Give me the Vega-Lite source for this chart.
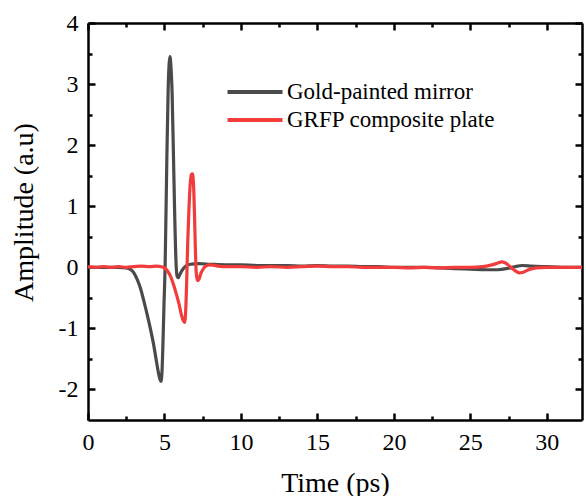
{
  "$schema": "https://vega.github.io/schema/vega-lite/v6.json",
  "autosize": {"type": "none"},
  "padding": {"left": 88, "top": 23, "right": 4, "bottom": 76},
  "width": 494,
  "height": 397,
  "config": {
    "font": "Liberation Serif",
    "view": {"stroke": null},
    "axis": {"grid": false, "domainColor": "black", "tickColor": "black", "labelColor": "black", "titleColor": "black", "labelFont": "Liberation Serif", "titleFont": "Liberation Serif", "titleFontWeight": "normal", "domainWidth": 2.5, "tickWidth": 2.5}
  },
  "data": {"values": [
    {"t":0,"a":0.00,"s":"Gold-painted mirror"},{"t":1,"a":0.00,"s":"Gold-painted mirror"},{"t":2,"a":0.00,"s":"Gold-painted mirror"},{"t":2.5,"a":-0.01,"s":"Gold-painted mirror"},{"t":2.8,"a":-0.04,"s":"Gold-painted mirror"},{"t":3.0,"a":-0.09,"s":"Gold-painted mirror"},{"t":3.2,"a":-0.19,"s":"Gold-painted mirror"},{"t":3.4,"a":-0.32,"s":"Gold-painted mirror"},{"t":3.62,"a":-0.52,"s":"Gold-painted mirror"},{"t":3.8,"a":-0.7,"s":"Gold-painted mirror"},{"t":3.95,"a":-0.86,"s":"Gold-painted mirror"},{"t":4.1,"a":-1.03,"s":"Gold-painted mirror"},{"t":4.28,"a":-1.25,"s":"Gold-painted mirror"},{"t":4.45,"a":-1.5,"s":"Gold-painted mirror"},{"t":4.6,"a":-1.72,"s":"Gold-painted mirror"},{"t":4.7,"a":-1.83,"s":"Gold-painted mirror"},{"t":4.77,"a":-1.87,"s":"Gold-painted mirror"},{"t":4.84,"a":-1.7,"s":"Gold-painted mirror"},{"t":4.9,"a":-1.25,"s":"Gold-painted mirror"},{"t":4.97,"a":-0.6,"s":"Gold-painted mirror"},{"t":5.04,"a":0.0,"s":"Gold-painted mirror"},{"t":5.1,"a":0.9,"s":"Gold-painted mirror"},{"t":5.16,"a":1.85,"s":"Gold-painted mirror"},{"t":5.24,"a":2.9,"s":"Gold-painted mirror"},{"t":5.31,"a":3.35,"s":"Gold-painted mirror"},{"t":5.36,"a":3.45,"s":"Gold-painted mirror"},{"t":5.42,"a":3.3,"s":"Gold-painted mirror"},{"t":5.5,"a":2.85,"s":"Gold-painted mirror"},{"t":5.59,"a":1.8,"s":"Gold-painted mirror"},{"t":5.67,"a":0.85,"s":"Gold-painted mirror"},{"t":5.76,"a":0.05,"s":"Gold-painted mirror"},{"t":5.83,"a":-0.15,"s":"Gold-painted mirror"},{"t":5.9,"a":-0.17,"s":"Gold-painted mirror"},{"t":6.0,"a":-0.12,"s":"Gold-painted mirror"},{"t":6.15,"a":-0.05,"s":"Gold-painted mirror"},{"t":6.4,"a":0.02,"s":"Gold-painted mirror"},{"t":6.7,"a":0.05,"s":"Gold-painted mirror"},{"t":7.2,"a":0.06,"s":"Gold-painted mirror"},{"t":8,"a":0.05,"s":"Gold-painted mirror"},{"t":9,"a":0.04,"s":"Gold-painted mirror"},{"t":10,"a":0.04,"s":"Gold-painted mirror"},{"t":11,"a":0.03,"s":"Gold-painted mirror"},{"t":12,"a":0.03,"s":"Gold-painted mirror"},{"t":13,"a":0.03,"s":"Gold-painted mirror"},{"t":14,"a":0.02,"s":"Gold-painted mirror"},{"t":15,"a":0.03,"s":"Gold-painted mirror"},{"t":16,"a":0.02,"s":"Gold-painted mirror"},{"t":17,"a":0.02,"s":"Gold-painted mirror"},{"t":18,"a":0.01,"s":"Gold-painted mirror"},{"t":19,"a":0.01,"s":"Gold-painted mirror"},{"t":20,"a":0.0,"s":"Gold-painted mirror"},{"t":21,"a":0.0,"s":"Gold-painted mirror"},{"t":22,"a":0.0,"s":"Gold-painted mirror"},{"t":23,"a":-0.01,"s":"Gold-painted mirror"},{"t":24,"a":-0.02,"s":"Gold-painted mirror"},{"t":25,"a":-0.03,"s":"Gold-painted mirror"},{"t":26,"a":-0.04,"s":"Gold-painted mirror"},{"t":26.8,"a":-0.04,"s":"Gold-painted mirror"},{"t":27.4,"a":-0.02,"s":"Gold-painted mirror"},{"t":27.9,"a":0.01,"s":"Gold-painted mirror"},{"t":28.4,"a":0.03,"s":"Gold-painted mirror"},{"t":29,"a":0.02,"s":"Gold-painted mirror"},{"t":30,"a":0.01,"s":"Gold-painted mirror"},{"t":31,"a":0.0,"s":"Gold-painted mirror"},{"t":32.3,"a":0.0,"s":"Gold-painted mirror"},
    {"t":0,"a":0.01,"s":"GRFP composite plate"},{"t":0.5,"a":0.0,"s":"GRFP composite plate"},{"t":1,"a":0.01,"s":"GRFP composite plate"},{"t":1.5,"a":0.0,"s":"GRFP composite plate"},{"t":2,"a":0.01,"s":"GRFP composite plate"},{"t":2.5,"a":0.0,"s":"GRFP composite plate"},{"t":3,"a":0.01,"s":"GRFP composite plate"},{"t":3.5,"a":0.02,"s":"GRFP composite plate"},{"t":4,"a":0.01,"s":"GRFP composite plate"},{"t":4.5,"a":0.02,"s":"GRFP composite plate"},{"t":4.8,"a":0.01,"s":"GRFP composite plate"},{"t":5.0,"a":-0.01,"s":"GRFP composite plate"},{"t":5.2,"a":-0.06,"s":"GRFP composite plate"},{"t":5.4,"a":-0.15,"s":"GRFP composite plate"},{"t":5.6,"a":-0.29,"s":"GRFP composite plate"},{"t":5.8,"a":-0.46,"s":"GRFP composite plate"},{"t":5.95,"a":-0.6,"s":"GRFP composite plate"},{"t":6.1,"a":-0.77,"s":"GRFP composite plate"},{"t":6.22,"a":-0.87,"s":"GRFP composite plate"},{"t":6.31,"a":-0.9,"s":"GRFP composite plate"},{"t":6.38,"a":-0.75,"s":"GRFP composite plate"},{"t":6.45,"a":-0.25,"s":"GRFP composite plate"},{"t":6.52,"a":0.4,"s":"GRFP composite plate"},{"t":6.6,"a":0.95,"s":"GRFP composite plate"},{"t":6.68,"a":1.35,"s":"GRFP composite plate"},{"t":6.76,"a":1.52,"s":"GRFP composite plate"},{"t":6.83,"a":1.53,"s":"GRFP composite plate"},{"t":6.9,"a":1.35,"s":"GRFP composite plate"},{"t":6.96,"a":0.9,"s":"GRFP composite plate"},{"t":7.02,"a":0.3,"s":"GRFP composite plate"},{"t":7.08,"a":-0.1,"s":"GRFP composite plate"},{"t":7.16,"a":-0.22,"s":"GRFP composite plate"},{"t":7.25,"a":-0.2,"s":"GRFP composite plate"},{"t":7.35,"a":-0.12,"s":"GRFP composite plate"},{"t":7.5,"a":-0.04,"s":"GRFP composite plate"},{"t":7.7,"a":0.02,"s":"GRFP composite plate"},{"t":8,"a":0.04,"s":"GRFP composite plate"},{"t":8.5,"a":0.02,"s":"GRFP composite plate"},{"t":9,"a":0.01,"s":"GRFP composite plate"},{"t":10,"a":0.01,"s":"GRFP composite plate"},{"t":11,"a":0.0,"s":"GRFP composite plate"},{"t":12,"a":0.01,"s":"GRFP composite plate"},{"t":13,"a":0.0,"s":"GRFP composite plate"},{"t":14,"a":0.01,"s":"GRFP composite plate"},{"t":15,"a":0.02,"s":"GRFP composite plate"},{"t":16,"a":0.01,"s":"GRFP composite plate"},{"t":17,"a":0.01,"s":"GRFP composite plate"},{"t":18,"a":0.0,"s":"GRFP composite plate"},{"t":19,"a":0.0,"s":"GRFP composite plate"},{"t":20,"a":0.0,"s":"GRFP composite plate"},{"t":21,"a":-0.01,"s":"GRFP composite plate"},{"t":22,"a":0.0,"s":"GRFP composite plate"},{"t":23,"a":-0.01,"s":"GRFP composite plate"},{"t":24,"a":0.0,"s":"GRFP composite plate"},{"t":25,"a":0.0,"s":"GRFP composite plate"},{"t":25.8,"a":0.01,"s":"GRFP composite plate"},{"t":26.4,"a":0.04,"s":"GRFP composite plate"},{"t":26.8,"a":0.07,"s":"GRFP composite plate"},{"t":27.05,"a":0.09,"s":"GRFP composite plate"},{"t":27.3,"a":0.07,"s":"GRFP composite plate"},{"t":27.6,"a":0.01,"s":"GRFP composite plate"},{"t":27.9,"a":-0.05,"s":"GRFP composite plate"},{"t":28.2,"a":-0.09,"s":"GRFP composite plate"},{"t":28.45,"a":-0.08,"s":"GRFP composite plate"},{"t":28.8,"a":-0.04,"s":"GRFP composite plate"},{"t":29.3,"a":-0.01,"s":"GRFP composite plate"},{"t":30,"a":0.0,"s":"GRFP composite plate"},{"t":31,"a":0.0,"s":"GRFP composite plate"},{"t":32.3,"a":0.0,"s":"GRFP composite plate"}
  ]},
  "resolve": {"axis": {"x": "independent", "y": "independent"}},
  "layer": [
    {
      "mark": {"type": "line", "strokeWidth": 3.2, "interpolate": "monotone"},
      "encoding": {
        "x": {"field": "t", "type": "quantitative", "scale": {"domain": [0, 32.3], "nice": false, "zero": false},
          "axis": {"orient": "bottom", "title": "Time (ps)", "values": [0, 5, 10, 15, 20, 25, 30], "tickSize": -7, "labelPadding": 17, "labelFontSize": 24, "titleFontSize": 28, "titlePadding": 15, "labelFlush": false}},
        "y": {"field": "a", "type": "quantitative", "scale": {"domain": [-2.5, 4], "nice": false, "zero": false},
          "axis": {"orient": "left", "title": "Amplitude (a.u)", "values": [-2, -1, 0, 1, 2, 3, 4], "tickSize": -7, "labelPadding": 17, "labelFontSize": 24, "titleFontSize": 28, "labelExpr": "'' + datum.value", "titleX": -64, "titleY": 189, "titleBaseline": "middle", "titleAngle": -90, "labelFlush": false}},
        "color": {"field": "s", "type": "nominal",
          "scale": {"domain": ["Gold-painted mirror", "GRFP composite plate"], "range": ["#4a4a4a", "#f23c3c"]},
          "legend": {"orient": "none", "legendX": 151, "legendY": 53, "title": null, "symbolType": "M-2,0H2", "symbolSize": 756, "symbolStrokeWidth": 4, "labelFontSize": 23, "labelFont": "Liberation Serif", "labelColor": "black", "labelOffset": 16, "labelLimit": 0, "padding": 0, "rowPadding": 0}}
      }
    },
    {
      "mark": {"type": "point", "opacity": 0},
      "encoding": {
        "x": {"field": "t", "type": "quantitative", "axis": {"orient": "bottom", "title": null, "labels": false, "domain": false, "values": [2.5, 7.5, 12.5, 17.5, 22.5, 27.5], "tickSize": -4}},
        "y": {"field": "a", "type": "quantitative", "axis": {"orient": "left", "title": null, "labels": false, "domain": false, "values": [-1.5, -0.5, 0.5, 1.5, 2.5, 3.5], "tickSize": -4}}
      }
    },
    {
      "mark": {"type": "point", "opacity": 0},
      "encoding": {
        "x": {"field": "t", "type": "quantitative", "axis": {"orient": "top", "title": null, "labels": false, "values": [0, 5, 10, 15, 20, 25, 30], "tickSize": -7}},
        "y": {"field": "a", "type": "quantitative", "axis": {"orient": "right", "title": null, "labels": false, "values": [-2, -1, 0, 1, 2, 3, 4], "tickSize": -7}}
      }
    },
    {
      "mark": {"type": "point", "opacity": 0},
      "encoding": {
        "x": {"field": "t", "type": "quantitative", "axis": {"orient": "top", "title": null, "labels": false, "domain": false, "values": [2.5, 7.5, 12.5, 17.5, 22.5, 27.5], "tickSize": -4}},
        "y": {"field": "a", "type": "quantitative", "axis": {"orient": "right", "title": null, "labels": false, "domain": false, "values": [-1.5, -0.5, 0.5, 1.5, 2.5, 3.5], "tickSize": -4}}
      }
    }
  ]
}
